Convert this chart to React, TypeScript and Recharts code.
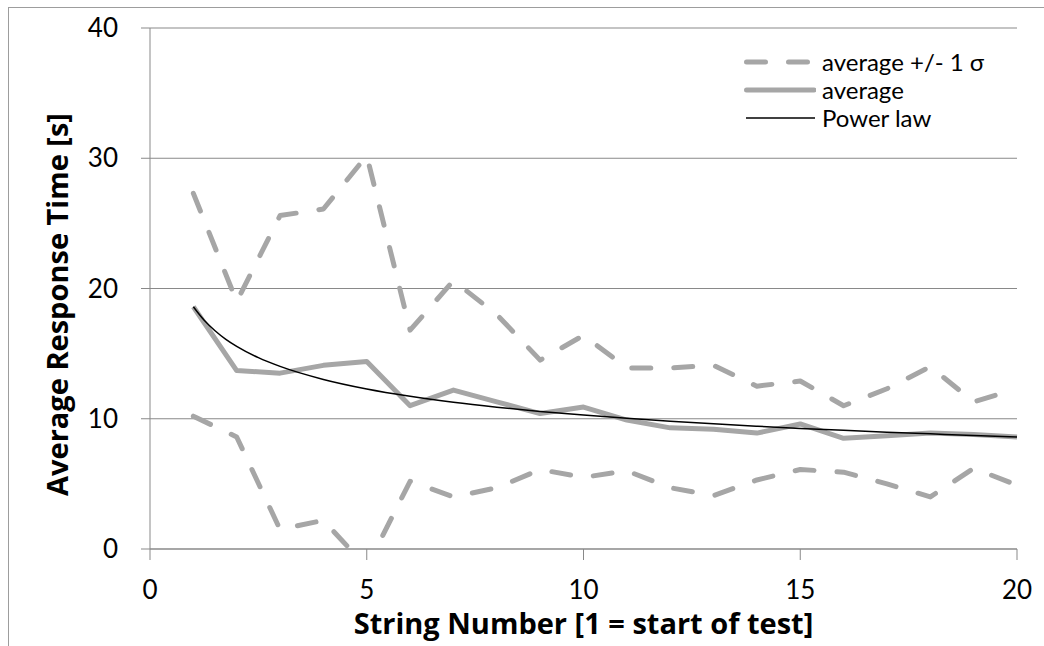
import { LineChart, Line, XAxis, YAxis, CartesianGrid, Legend } from "recharts"

// string index 1..20
const strings = [1, 2, 3, 4, 5, 6, 7, 8, 9, 10, 11, 12, 13, 14, 15, 16, 17, 18, 19, 20]

// mean response time per string [s]
const average = [18.6, 13.7, 13.5, 14.1, 14.4, 11.0, 12.2, 11.3, 10.4, 10.9, 9.9, 9.3, 9.2, 8.9, 9.6, 8.5, 8.7, 8.9, 8.8, 8.6]

// mean + 1 sigma
const upper = [27.3, 19.0, 25.6, 26.1, 30.2, 16.8, 20.6, 18.0, 14.5, 16.4, 13.9, 13.9, 14.1, 12.5, 12.9, 11.0, 12.3, 14.0, 11.3, 12.3]

// mean - 1 sigma (dips below zero at string 5)
const lower = [10.2, 8.6, 1.5, 2.2, -1.4, 5.2, 4.0, 4.7, 6.1, 5.5, 6.0, 4.7, 4.1, 5.3, 6.1, 5.9, 5.0, 4.0, 6.2, 4.9]

// power law trend line
const trendX = [1, 1.25, 1.5, 1.75, 2, 2.5, 3, 4, 5, 6, 7, 8, 9, 10, 11, 12, 13, 14, 15, 16, 17, 18, 19, 20]
const trendY = [18.6, 17.56, 16.76, 16.1, 15.56, 14.69, 14.02, 13.02, 12.29, 11.73, 11.27, 10.89, 10.56, 10.28, 10.03, 9.81, 9.61, 9.43, 9.26, 9.11, 8.97, 8.84, 8.71, 8.6]

const xTicks = [0, 5, 10, 15, 20]
const yTicks = [0, 10, 20, 30, 40]

const FONT = "Lato, 'Open Sans', sans-serif"
const TITLE_FONT = "'Open Sans', Lato, sans-serif"
const AXIS_GRAY = "#898989"
const SERIES_GRAY = "#a6a6a6"
const DASH = "19 23"

const avgData = strings.map((x, i) => ({ x, y: average[i] }))
const upperData = strings.map((x, i) => ({ x, y: upper[i] }))
const lowerData = strings.map((x, i) => ({ x, y: lower[i] }))
const trendData = trendX.map((x, i) => ({ x, y: trendY[i] }))

const legendRows = [
  { label: "average +/- 1 σ", kind: "dash" },
  { label: "average", kind: "thick" },
  { label: "Power law", kind: "thin" },
]

function LegendBox() {
  return (
    <div style={{ fontFamily: FONT, fontSize: 24, color: "#000" }}>
      {legendRows.map((row) => (
        <div key={row.label} style={{ display: "flex", alignItems: "center", height: 28 }}>
          <svg width={72} height={10} style={{ display: "block" }}>
            {row.kind === "dash" && (
              <line x1={2.5} y1={5} x2={70} y2={5} stroke={SERIES_GRAY} strokeWidth={5} strokeDasharray={DASH} strokeLinecap="round" />
            )}
            {row.kind === "thick" && (
              <line x1={2.5} y1={5} x2={70} y2={5} stroke={SERIES_GRAY} strokeWidth={5} strokeLinecap="round" />
            )}
            {row.kind === "thin" && <line x1={2} y1={5} x2={71} y2={5} stroke="#000" strokeWidth={1.5} />}
          </svg>
          <span style={{ marginLeft: 6, lineHeight: "28px", whiteSpace: "nowrap" }}>{row.label}</span>
        </div>
      ))}
    </div>
  )
}

export default function App() {
  return (
    <div
      style={{
        position: "absolute",
        left: 8,
        top: 7,
        width: 1036,
        height: 639,
        boxSizing: "border-box",
        borderLeft: "1px solid #9d9d9d",
        borderTop: "1px solid #9d9d9d",
        background: "#fff",
        fontFamily: FONT,
      }}
    >
      <LineChart width={1035} height={638} margin={{ top: 20, right: 27, bottom: 0, left: 0 }}>
        <CartesianGrid vertical={false} stroke={AXIS_GRAY} strokeWidth={1} />
        <XAxis
          type="number"
          dataKey="x"
          domain={[0, 20]}
          ticks={xTicks}
          height={97}
          stroke={AXIS_GRAY}
          tickSize={11}
          tickMargin={21}
          tick={{ fill: "#000", fontSize: 26, fontFamily: FONT }}
          label={{
            value: "String Number [1 = start of test]",
            position: "insideBottom",
            offset: 12,
            style: { fontSize: 29, fontWeight: 700, fill: "#000", fontFamily: TITLE_FONT },
          }}
        />
        <YAxis
          type="number"
          domain={[0, 40]}
          ticks={yTicks}
          allowDataOverflow
          width={141}
          stroke={AXIS_GRAY}
          tickSize={9}
          tickMargin={23}
          tick={{ fill: "#000", fontSize: 26, fontFamily: FONT }}
          label={{
            value: "Average Response Time [s]",
            angle: -90,
            position: "insideLeft",
            offset: 49,
            dy: 16,
            style: { fontSize: 29, fontWeight: 700, fill: "#000", fontFamily: TITLE_FONT, textAnchor: "middle" },
          }}
        />
        <Legend
          layout="horizontal"
          verticalAlign="middle"
          align="center"
          content={() => <LegendBox />}
          wrapperStyle={{ top: 40, left: 735, width: 290, height: 84 }}
        />
        <Line data={upperData} dataKey="y" stroke={SERIES_GRAY} strokeWidth={5} strokeDasharray={DASH} strokeLinecap="round" strokeLinejoin="round" dot={false} isAnimationActive={false} />
        <Line data={lowerData} dataKey="y" stroke={SERIES_GRAY} strokeWidth={5} strokeDasharray={DASH} strokeLinecap="round" strokeLinejoin="round" dot={false} isAnimationActive={false} />
        <Line data={avgData} dataKey="y" stroke={SERIES_GRAY} strokeWidth={5} strokeLinejoin="round" dot={false} isAnimationActive={false} />
        <Line data={trendData} dataKey="y" type="monotone" stroke="#000" strokeWidth={1.5} dot={false} isAnimationActive={false} />
      </LineChart>
    </div>
  )
}
